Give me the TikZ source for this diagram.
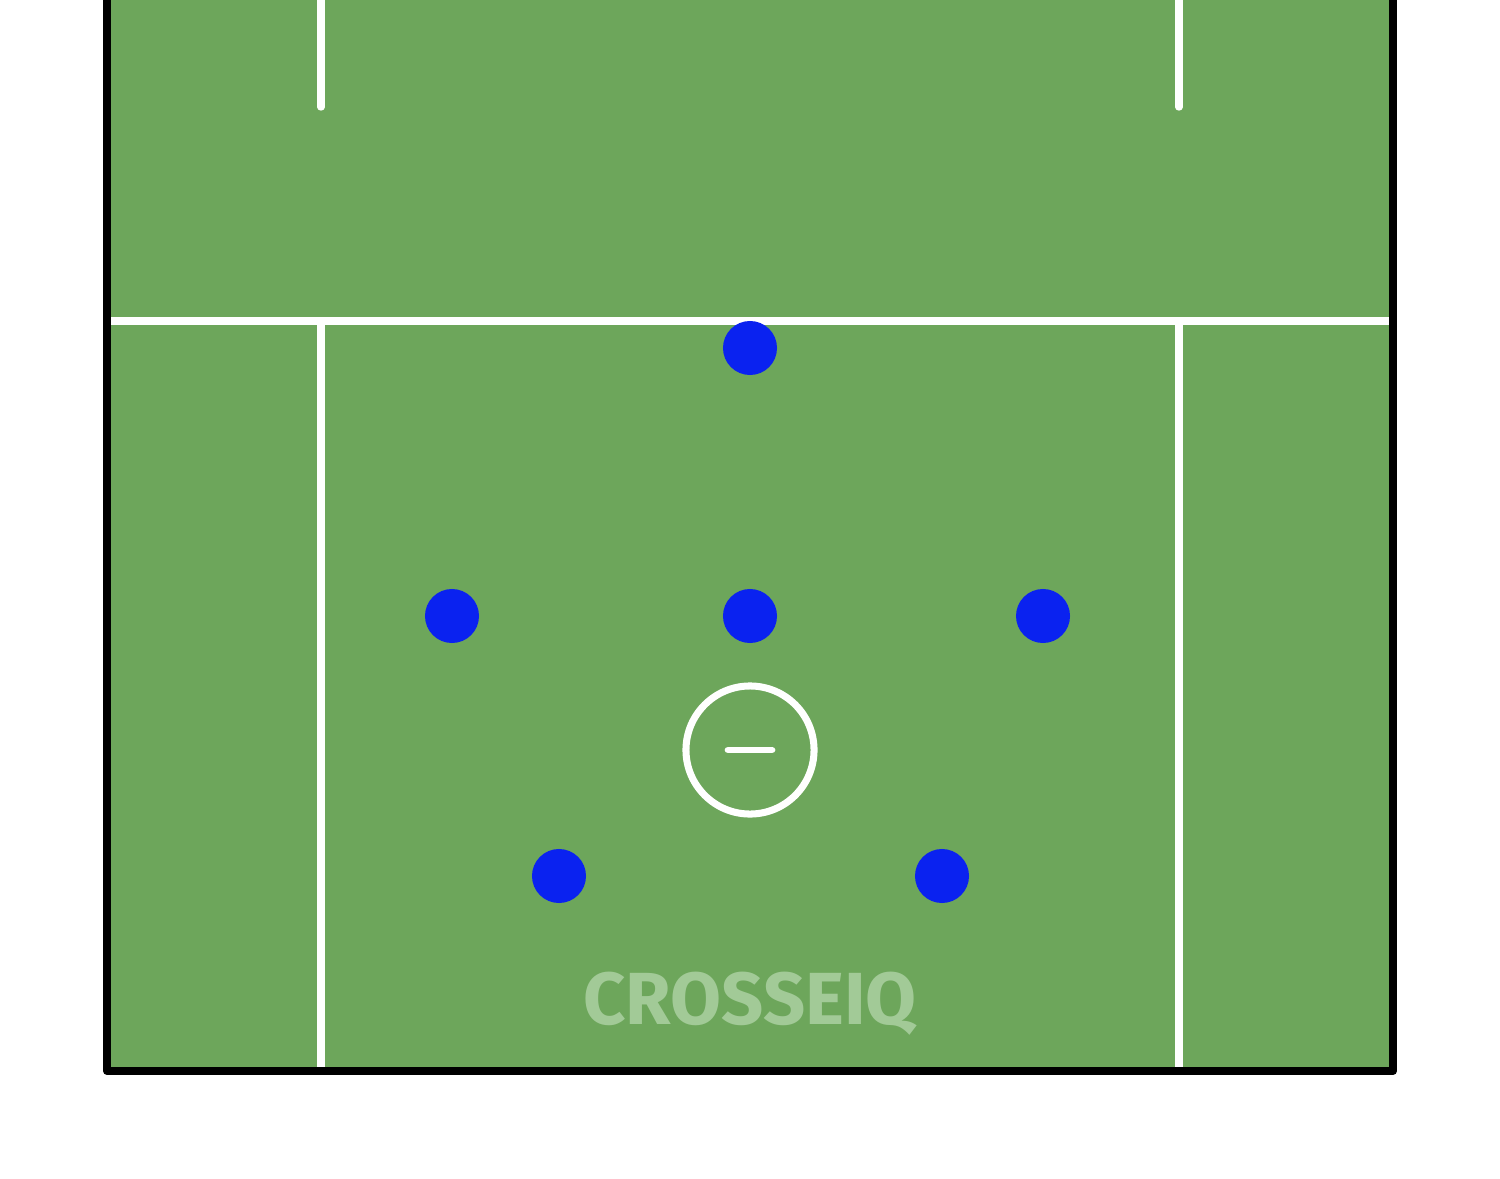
\documentclass[tikz,border=0pt]{standalone}
\usepackage{fontspec}
\setsansfont{Fira Sans}
\usetikzlibrary{positioning}

\definecolor{turf}{HTML}{6DA65B}
\definecolor{playerblue}{HTML}{0A22F0}
\definecolor{markfaded}{HTML}{A2CA97}

\begin{document}
\begin{tikzpicture}[%
    x=0.01cm,
    y=-0.01cm,
    chalk/.style={white,line width=2.1pt,line cap=round},
    player/.style={circle,fill=playerblue,minimum size=0.54cm,inner sep=0pt},
    goalie/.style={circle,draw=white,line width=2pt,minimum size=1.28cm,inner sep=0pt}
  ]
  \useasboundingbox (0,0) rectangle (1500,1179);

  % field
  \fill[turf] (107,0) rectangle (1393,1071);
  \draw[chalk,line cap=butt] (110,321) -- (1390,321);
  \draw[chalk] (321,0) -- (321,107);
  \draw[chalk] (1179,0) -- (1179,107);
  \draw[chalk,line cap=butt] (321,324) -- (321,1068);
  \draw[chalk,line cap=butt] (1179,324) -- (1179,1068);
  \draw[black,line width=2.3pt,line join=round] (107,0) -- (107,1071) -- (1393,1071) -- (1393,0);

  % players
  \node[player] (top) at (750,348) {};
  \node[player] (mid) at (750,616) {};
  \node[player] (left) at (452,616) {};
  \node[player] (right) at (1043,616) {};
  \node[player] (lowleft) at (559,876) {};
  \node[player] (lowright) at (942,876) {};

  % goalie
  \node[goalie] (goal) at (750,750) {};
  \draw[chalk,line width=1.9pt] ([xshift=-0.22cm]goal.center) -- ([xshift=0.22cm]goal.center);

  \node[text=markfaded,font=\sffamily\bfseries\fontsize{21}{21}\selectfont,anchor=base,inner sep=0pt] (brand) at (750,1024) {CROSSEIQ};
\end{tikzpicture}
\end{document}
